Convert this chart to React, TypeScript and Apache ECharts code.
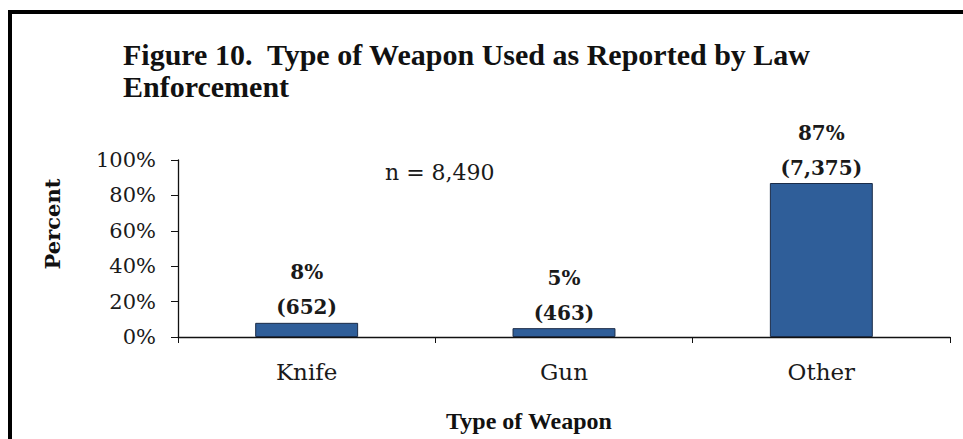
import React, { useEffect, useRef } from "react";
import * as echarts from "echarts";

const categories = ["Knife", "Gun", "Other"];
const percents = [8, 5, 87];
const counts = [652, 463, 7375];
const yTicks = [0, 20, 40, 60, 80, 100];
const titleLines = ["Figure 10.  Type of Weapon Used as Reported by Law", "Enforcement"];
const sampleNote = "n = 8,490";
const xAxisTitle = "Type of Weapon";
const yAxisTitle = "Percent";

export default function App() {
  const ref = useRef<HTMLDivElement>(null);
  useEffect(() => {
    document.body.style.margin = "0";
    const chart = echarts.init(ref.current!, null, { renderer: "svg" });
    const serif = '"DejaVu Serif", serif';
    const times = '"Liberation Serif", "Times New Roman", serif';
    chart.setOption({
      animation: false,
      backgroundColor: "#ffffff",
      grid: { left: 178, right: 13, top: 160, bottom: 102, containLabel: false },
      xAxis: {
        type: "category",
        data: categories,
        axisLine: { show: true, lineStyle: { color: "#111", width: 1.3 } },
        axisTick: { show: true, alignWithLabel: false, length: 6, lineStyle: { color: "#111" } },
        axisLabel: { fontFamily: serif, fontSize: 23, color: "#1a1a1a", margin: 23 },
        splitLine: { show: false },
      },
      yAxis: {
        type: "value",
        min: yTicks[0],
        max: yTicks[yTicks.length - 1],
        interval: yTicks[1] - yTicks[0],
        axisLine: { show: true, lineStyle: { color: "#111", width: 1.3 } },
        axisTick: { show: true, length: 7, lineStyle: { color: "#111" } },
        axisLabel: {
          formatter: "{value}%",
          fontFamily: serif,
          fontSize: 21,
          color: "#1a1a1a",
          margin: 22,
        },
        splitLine: { show: false },
      },
      series: [
        {
          type: "bar",
          data: percents,
          barWidth: "40%",
          itemStyle: { color: "#2f5e99", borderColor: "#1b2c48", borderWidth: 1 },
          label: {
            show: true,
            position: "top",
            distance: 0,
            offset: [0, 2],
            fontFamily: serif,
            fontWeight: "bold",
            fontSize: 20,
            lineHeight: 35,
            color: "#1a1a1a",
            formatter: (p: any) =>
              `${percents[p.dataIndex]}%\n(${counts[p.dataIndex].toLocaleString("en-US")})`,
          },
        },
      ],
      graphic: [
        {
          type: "rect",
          shape: { x: 10, y: 12, width: 1000, height: 500 },
          style: { fill: "none", stroke: "#000", lineWidth: 4 },
          silent: true,
        },
        {
          type: "text",
          x: 123,
          y: 38,
          style: {
            text: titleLines.join("\n"),
            font: `bold 30px ${times}`,
            lineHeight: 32,
            fill: "#111",
            textAlign: "left",
            textVerticalAlign: "top",
          },
        },
        {
          type: "text",
          x: 385,
          y: 172,
          style: {
            text: sampleNote,
            font: `22px ${serif}`,
            fill: "#1a1a1a",
            textAlign: "left",
            textVerticalAlign: "middle",
          },
        },
        {
          type: "text",
          x: 529,
          y: 421,
          style: {
            text: xAxisTitle,
            font: `bold 24px ${times}`,
            fill: "#111",
            textAlign: "center",
            textVerticalAlign: "middle",
          },
        },
        {
          type: "text",
          x: 52,
          y: 224,
          rotation: Math.PI / 2,
          style: {
            text: yAxisTitle,
            font: `bold 21px ${serif}`,
            fill: "#111",
            textAlign: "center",
            textVerticalAlign: "middle",
          },
        },
      ],
    });
    return () => chart.dispose();
  }, []);
  return <div ref={ref} style={{ width: 963, height: 439 }} />;
}
